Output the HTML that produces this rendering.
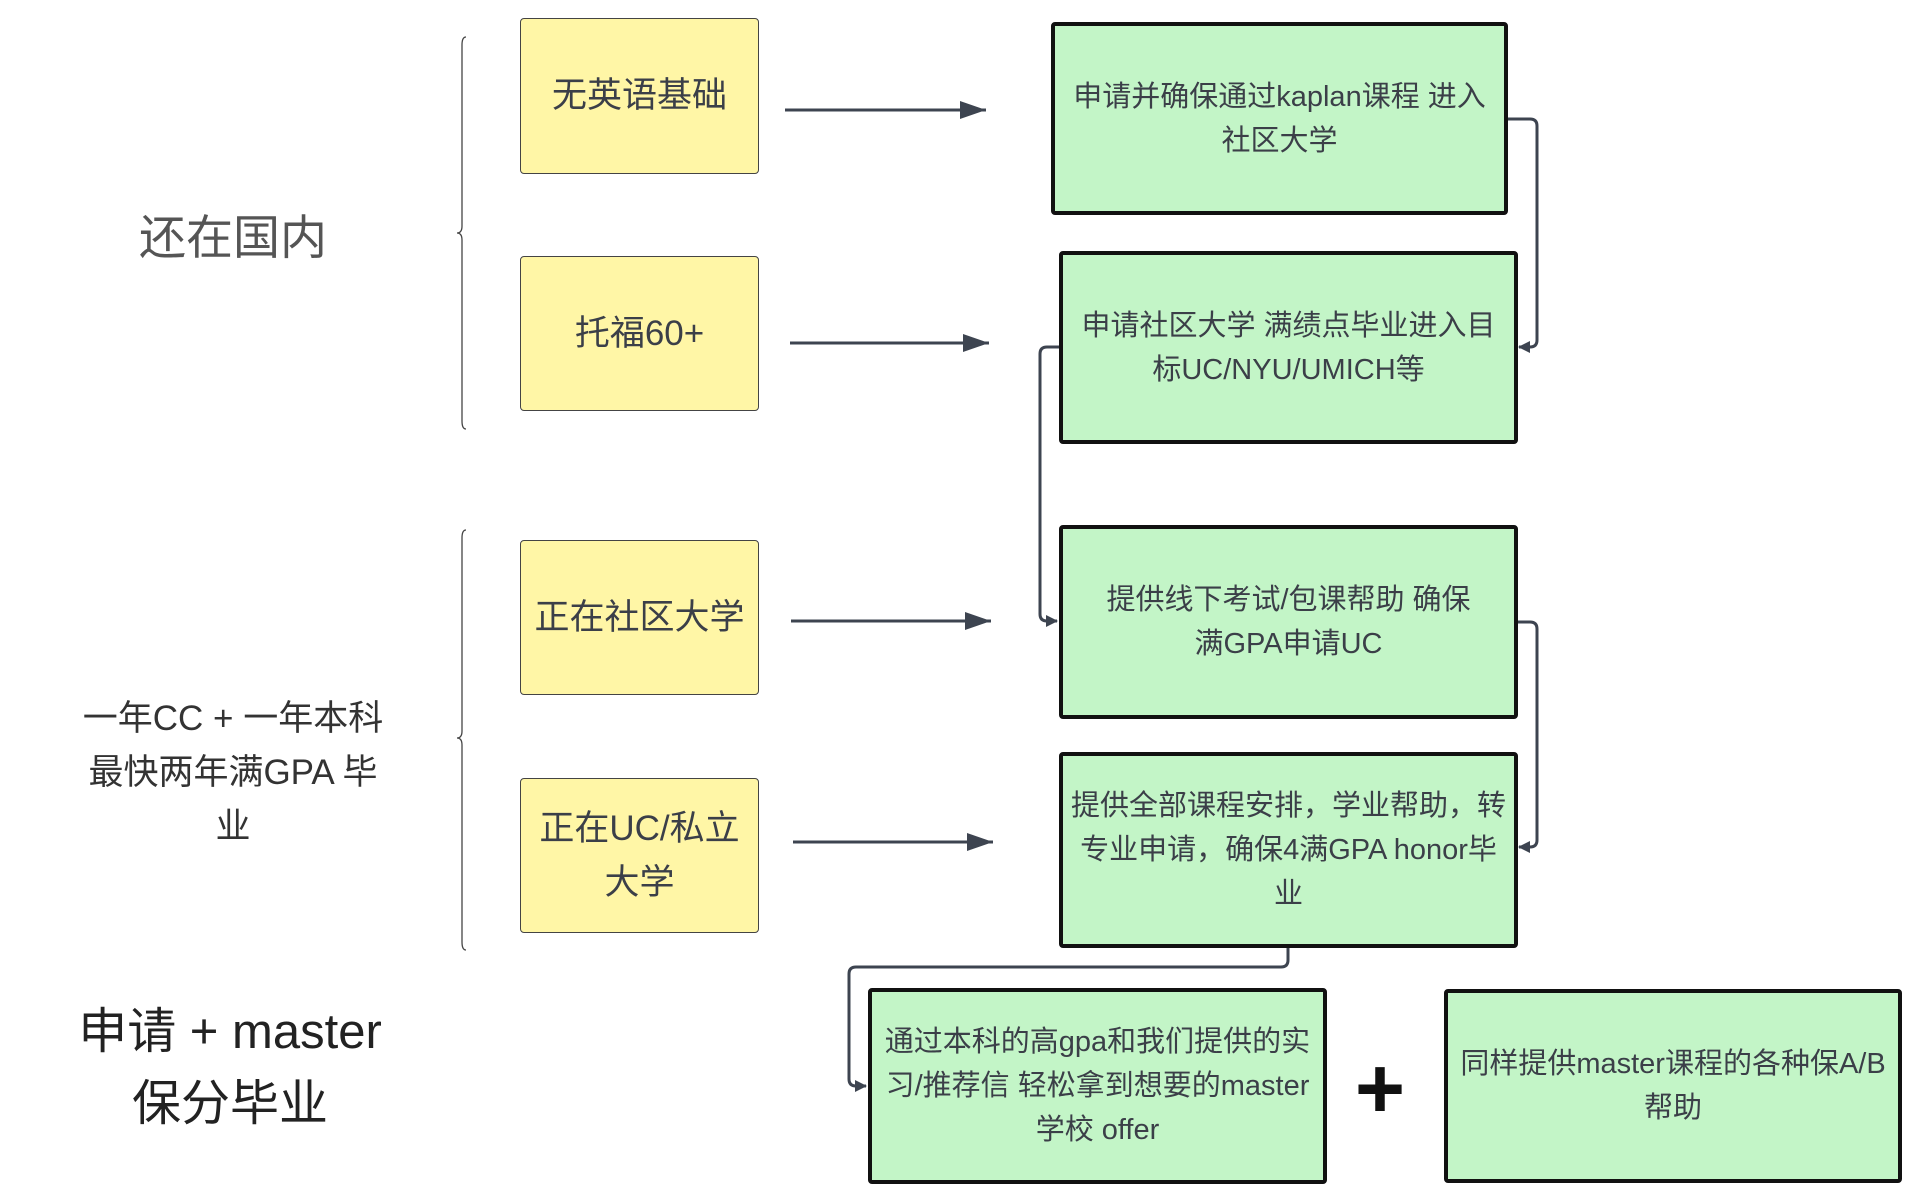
<!DOCTYPE html>
<html><head><meta charset="utf-8"><style>
html,body{margin:0;padding:0;background:#fff;}
body{width:1920px;height:1202px;position:relative;overflow:hidden;font-family:"Liberation Sans","Noto Sans CJK SC",sans-serif;color:#3b3f48;}
.b{position:absolute;box-sizing:border-box;display:flex;align-items:center;justify-content:center;text-align:center;}
.y{background:#fff6a6;border:1.5px solid #444;border-radius:4px;font-size:35px;line-height:54px;}
.g{background:#c3f5c7;border:4px solid #111;border-radius:4px;font-size:29px;line-height:44px;padding:0 4px;}
.t{position:absolute;text-align:center;color:#333;}
</style></head><body>
<svg width="1920" height="1202" style="position:absolute;left:0;top:0" xmlns="http://www.w3.org/2000/svg">
<defs><marker id="a" markerWidth="12" markerHeight="12" refX="11" refY="6" orient="auto" markerUnits="userSpaceOnUse"><path d="M0,0 L12,6 L0,12 z" fill="#3d4450"/></marker>
<marker id="A" markerWidth="26" markerHeight="18" refX="26" refY="9" orient="auto" markerUnits="userSpaceOnUse"><path d="M0,0 L26,9 L0,18 z" fill="#3d4450"/></marker></defs>
<g stroke="#3d4450" stroke-width="3" fill="none">
<line x1="785" y1="110" x2="986" y2="110" marker-end="url(#A)"/>
<line x1="790" y1="343" x2="989" y2="343" marker-end="url(#A)"/>
<line x1="791" y1="621" x2="991" y2="621" marker-end="url(#A)"/>
<line x1="793" y1="842" x2="993" y2="842" marker-end="url(#A)"/>
<path d="M1507,119 H1530 Q1537,119 1537,126 V340 Q1537,347 1530,347 H1519" marker-end="url(#a)"/>
<path d="M1059,347 H1047 Q1040,347 1040,354 V614 Q1040,621 1047,621 H1057" marker-end="url(#a)"/>
<path d="M1517,622 H1530 Q1537,622 1537,629 V840 Q1537,847 1530,847 H1519" marker-end="url(#a)"/>
<path d="M1288,947 V960 Q1288,967 1281,967 H856 Q849,967 849,974 V1079 Q849,1086 856,1086 H866" marker-end="url(#a)"/>
</g>
<g stroke="#444" stroke-width="1.3" fill="none">
<path d="M466,37 Q462,37 462,45 V226 Q462,233 457,233 Q462,233 462,240 V421 Q462,429 466,429"/>
<path d="M466,530 Q462,530 462,538 V731 Q462,738 457,738 Q462,738 462,745 V942 Q462,950 466,950"/>
</g>
</svg>
<div class="t" style="left:80px;top:208px;width:306px;font-size:47px;line-height:60px;color:#555;">还在国内</div>
<div class="t" style="left:60px;top:692px;width:346px;font-size:35px;line-height:54px;">一年CC + 一年本科<br>最快两年满GPA 毕<br>业</div>
<div class="t" style="left:40px;top:996px;width:380px;font-size:49px;line-height:72px;color:#222;">申请 + master<br>保分毕业</div>
<div class="b y" style="left:520px;top:18px;width:239px;height:156px;">无英语基础</div>
<div class="b y" style="left:520px;top:256px;width:239px;height:155px;">托福60+</div>
<div class="b y" style="left:520px;top:540px;width:239px;height:155px;">正在社区大学</div>
<div class="b y" style="left:520px;top:778px;width:239px;height:155px;">正在UC/私立<br>大学</div>
<div class="b g" style="left:1051px;top:22px;width:457px;height:193px;">申请并确保通过kaplan课程 进入<br>社区大学</div>
<div class="b g" style="left:1059px;top:251px;width:459px;height:193px;">申请社区大学 满绩点毕业进入目<br>标UC/NYU/UMICH等</div>
<div class="b g" style="left:1059px;top:525px;width:459px;height:194px;">提供线下考试/包课帮助 确保<br>满GPA申请UC</div>
<div class="b g" style="left:1059px;top:752px;width:459px;height:196px;">提供全部课程安排，学业帮助，转<br>专业申请，确保4满GPA honor毕<br>业</div>
<div class="b g" style="left:868px;top:988px;width:459px;height:196px;">通过本科的高gpa和我们提供的实<br>习/推荐信 轻松拿到想要的master<br>学校 offer</div>
<div class="b g" style="left:1444px;top:989px;width:458px;height:194px;">同样提供master课程的各种保A/B<br>帮助</div>
<div class="t" style="left:1340px;top:1044px;width:80px;font-size:86px;line-height:90px;font-weight:bold;color:#111;">+</div>
</body></html>
